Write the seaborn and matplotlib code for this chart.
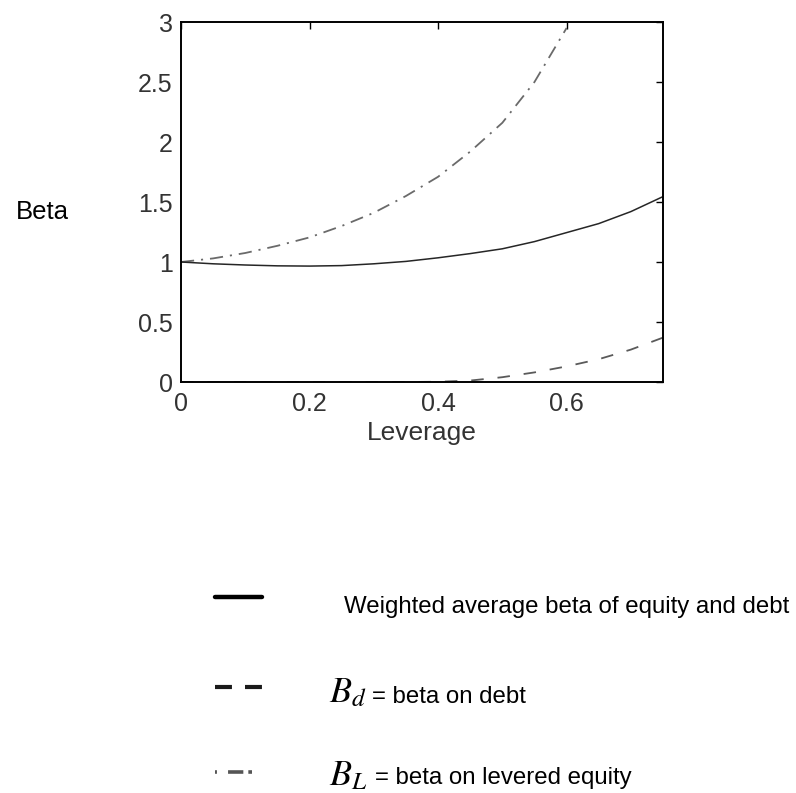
import matplotlib
matplotlib.use("Agg")
import matplotlib.pyplot as plt
from matplotlib.lines import Line2D
import pandas as pd
import seaborn as sns

# Leverage grid and the three beta curves
leverage = [0.00, 0.05, 0.10, 0.15, 0.20, 0.25, 0.30, 0.35, 0.40,
            0.45, 0.50, 0.55, 0.60, 0.65, 0.70, 0.75]
beta_weighted = [1.000, 0.985, 0.975, 0.968, 0.966, 0.970, 0.985, 1.005, 1.035,
                 1.070, 1.110, 1.170, 1.245, 1.320, 1.420, 1.545]
beta_debt = [0.000, 0.000, 0.000, 0.000, 0.000, 0.000, 0.000, 0.000, 0.002,
             0.012, 0.040, 0.080, 0.130, 0.190, 0.270, 0.370]
leverage_equity = [0.00, 0.05, 0.10, 0.15, 0.20, 0.25, 0.30, 0.35, 0.40,
                   0.45, 0.50, 0.55, 0.60]
beta_equity = [1.000, 1.030, 1.075, 1.135, 1.205, 1.300, 1.410, 1.550, 1.710,
               1.920, 2.160, 2.500, 2.950]

x_ticks = [0, 0.2, 0.4, 0.6]
x_tick_labels = ["0", "0.2", "0.4", "0.6"]
y_ticks = [0, 0.5, 1, 1.5, 2, 2.5, 3]
y_tick_labels = ["0", "0.5", "1", "1.5", "2", "2.5", "3"]

W, H = 796, 793

sns.set_theme(style="white")
plt.rcParams["font.family"] = ["Liberation Sans", "DejaVu Sans"]
plt.rcParams["mathtext.fontset"] = "stix"
plt.rcParams["lines.scale_dashes"] = False

df_main = pd.DataFrame({"Leverage": leverage, "weighted": beta_weighted, "debt": beta_debt})
df_eq = pd.DataFrame({"Leverage": leverage_equity, "equity": beta_equity})

fig = plt.figure(figsize=(W / 100, H / 100), dpi=100)
ax = fig.add_axes([181 / W, 1 - 382 / H, 482 / W, 360 / H])

sns.lineplot(data=df_eq, x="Leverage", y="equity", ax=ax, color="#6a6a6a",
             linewidth=1.3, linestyle=(0, (9.5, 5, 1.5, 5)))
sns.lineplot(data=df_main, x="Leverage", y="weighted", ax=ax, color="#262626",
             linewidth=1.1)
sns.lineplot(data=df_main, x="Leverage", y="debt", ax=ax, color="#5a5a5a",
             linewidth=1.3, linestyle=(0, (9, 10)))

ax.set_xlim(0, 0.75)
ax.set_ylim(0, 3)
ax.set_xticks(x_ticks)
ax.set_xticklabels(x_tick_labels)
ax.set_yticks(y_ticks)
ax.set_yticklabels(y_tick_labels)
ax.tick_params(direction="in", length=5, width=1, colors="black",
               labelsize=18, top=True, right=True)
ax.tick_params(axis="x", labelcolor="#333333", pad=7)
ax.tick_params(axis="y", labelcolor="#333333", pad=6)
for side in ax.spines.values():
    side.set_color("black")
    side.set_linewidth(1.4)

ax.set_xlabel("Leverage", fontsize=19, color="#333333", labelpad=4)
ax.set_ylabel("")
fig.text(16 / W, 1 - 212 / H, "Beta", fontsize=18.5, color="black",
         ha="left", va="center")

# Key drawn below the axes
fig.add_artist(Line2D([215 / W, 262 / W], [1 - 597 / H] * 2,
                      transform=fig.transFigure, color="black", linewidth=3.2))
fig.add_artist(Line2D([215 / W, 262 / W], [1 - 687 / H] * 2,
                      transform=fig.transFigure, color="#1a1a1a", linewidth=3.0,
                      linestyle=(0, (12.2, 9.4))))
fig.add_artist(Line2D([215 / W, 252 / W], [1 - 772 / H] * 2,
                      transform=fig.transFigure, color="#555555", linewidth=2.6,
                      linestyle=(0, (1.4, 8, 11, 3.6, 3, 20))))

fig.text(344 / W, 1 - 613 / H, "Weighted average beta of equity and debt",
         fontsize=17.3, color="black", ha="left", va="baseline")
fig.text(329 / W, 1 - 702 / H, r"$B_d$", fontsize=26, color="black",
         ha="left", va="baseline")
fig.text(372 / W, 1 - 703 / H, "= beta on debt", fontsize=17.3,
         color="black", ha="left", va="baseline")
fig.text(329 / W, 1 - 785 / H, r"$B_L$", fontsize=26, color="black",
         ha="left", va="baseline")
fig.text(375 / W, 1 - 784 / H, "= beta on levered equity", fontsize=17.3,
         color="black", ha="left", va="baseline")

fig.savefig("out.png", dpi=100, facecolor="white")
